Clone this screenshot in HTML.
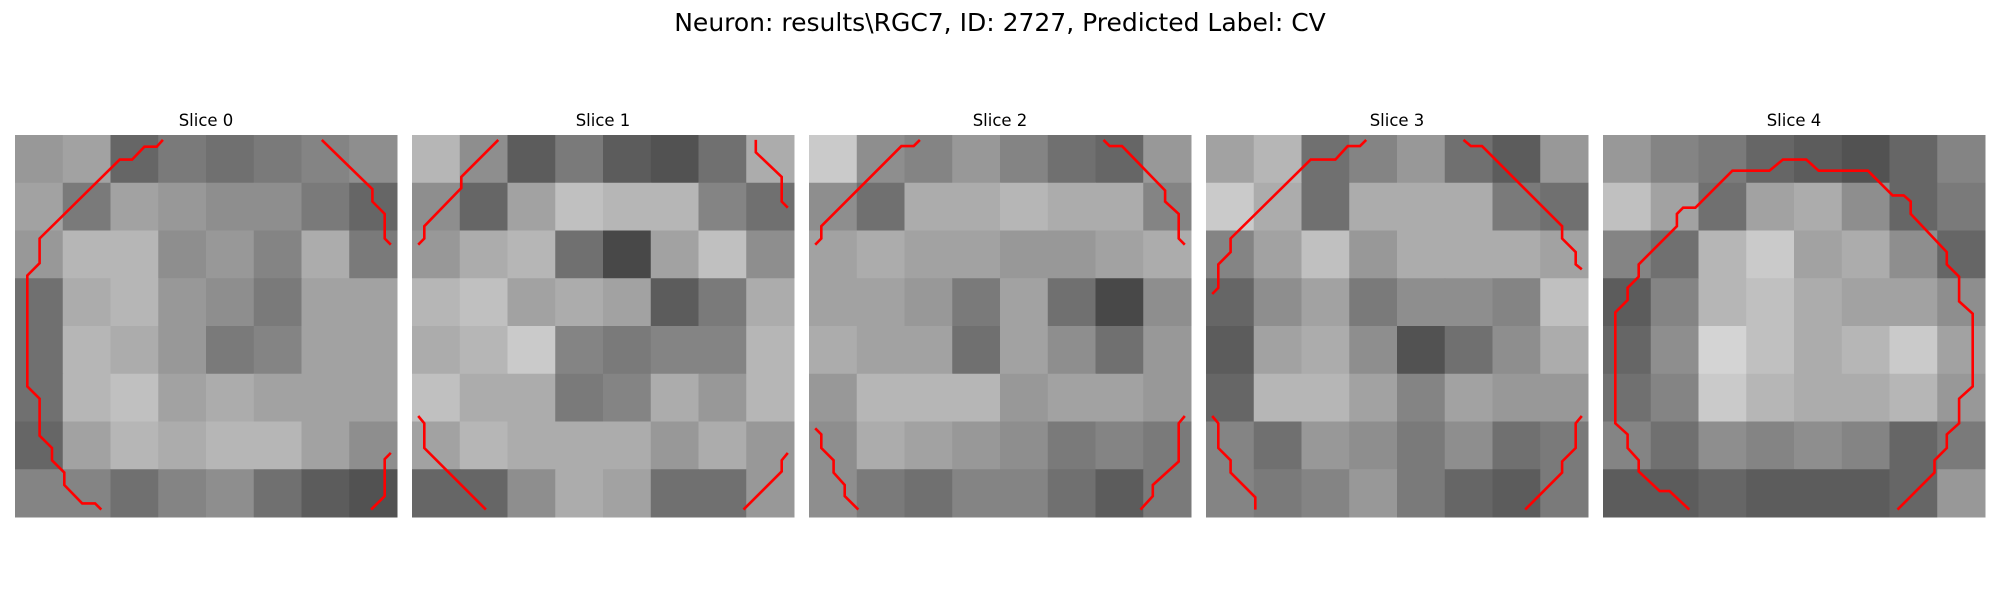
<!DOCTYPE html>
<html><head><meta charset="utf-8"><style>
html,body{margin:0;padding:0;background:#fff;width:2000px;height:600px;overflow:hidden}
svg{display:block}
</style></head><body>
<svg id="fig" width="2000" height="600" xmlns="http://www.w3.org/2000/svg">
<text x="1000" y="31" text-anchor="middle" font-family="DejaVu Sans, Liberation Sans, sans-serif" font-size="25" fill="#000">Neuron: results\RGC7, ID: 2727, Predicted Label: CV</text>
</svg>
<script>
const sliceLabels = ["Slice 0","Slice 1","Slice 2","Slice 3","Slice 4"];
const gridSize = 31;
const intensity0 = [[140,150,90,110,100,110,120,130],[150,110,150,140,130,130,110,90],[140,170,170,130,140,120,160,110],[100,160,170,140,130,110,150,150],[100,170,160,140,110,120,150,150],[100,170,180,150,160,150,150,150],[90,150,170,160,170,170,150,130],[120,120,100,120,130,100,80,70]];
const intensity1 = [[170,130,80,110,80,70,100,160],[130,90,150,180,170,170,120,100],[140,160,170,100,60,150,180,130],[170,180,150,160,150,80,110,160],[160,170,190,120,110,120,120,170],[180,160,160,110,120,160,140,170],[150,170,160,160,160,140,160,140],[90,90,130,160,150,100,100,140]];
const intensity2 = [[190,130,120,140,120,100,90,140],[130,100,160,160,170,160,160,120],[150,160,150,150,140,140,150,160],[150,150,140,110,150,100,60,130],[160,150,150,100,150,130,100,140],[140,170,170,170,140,150,150,140],[130,160,150,140,130,110,120,110],[130,110,100,120,120,100,80,110]];
const intensity3 = [[150,170,100,120,140,100,80,140],[190,160,100,160,160,160,110,100],[120,150,180,140,160,160,160,150],[90,130,150,110,130,130,120,180],[80,150,160,130,70,100,130,160],[90,170,170,150,120,150,140,140],[120,100,140,130,110,130,100,110],[120,110,120,140,110,90,80,110]];
const intensity4 = [[140,120,110,90,80,70,90,120],[180,150,100,150,160,130,90,110],[120,100,170,190,150,160,130,90],[80,120,170,180,160,150,150,130],[90,130,200,180,160,170,190,150],[100,120,190,170,160,160,170,140],[120,100,130,120,130,120,90,110],[80,80,90,80,80,80,90,140]];
const contours0 = [
 [[12.0,0.4],[11.5,0.95],[10.5,0.95],[9.5,2.0],[8.5,2.0],[2.0,8.4],[2.0,10.4],[1.0,11.4],[1.0,20.4],[2.0,21.4],[2.0,24.4],[3.0,25.4],[3.0,26.4],[4.0,27.4],[4.0,28.4],[5.45,29.9],[6.5,29.9],[7.0,30.4]],
 [[24.9,0.4],[29.0,4.4],[29.0,5.4],[30.0,6.4],[30.0,8.4],[30.5,8.9]],
 [[30.5,25.8],[30.0,26.3],[30.0,29.3],[28.9,30.4]]];
const contours1 = [
 [[7.0,0.4],[4.0,3.4],[4.0,4.3],[1.0,7.4],[1.0,8.4],[0.5,8.9]],
 [[27.9,0.4],[27.9,1.4],[30.0,3.4],[30.0,5.4],[30.5,5.9]],
 [[0.5,22.8],[1.0,23.4],[1.0,25.4],[6.0,30.4]],
 [[30.5,25.8],[30.0,26.4],[30.0,27.3],[26.9,30.4]]];
const contours2 = [
 [[9.0,0.4],[8.5,0.9],[7.5,0.9],[1.0,7.4],[1.0,8.4],[0.5,8.9]],
 [[23.9,0.4],[24.4,0.9],[25.4,0.9],[28.9,4.5],[28.9,5.4],[30.0,6.4],[30.0,8.4],[30.5,8.9]],
 [[0.5,23.8],[1.0,24.3],[1.0,25.4],[2.0,26.4],[2.0,27.4],[2.9,28.4],[2.9,29.3],[4.0,30.4]],
 [[30.5,22.8],[30.0,23.4],[30.0,26.5],[27.9,28.4],[27.9,29.3],[26.9,30.4]]];
const contours3 = [
 [[13.0,0.4],[12.5,0.9],[11.5,0.9],[10.5,2.0],[8.5,2.0],[2.0,8.4],[2.0,9.5],[1.0,10.5],[1.0,12.4],[0.5,12.9]],
 [[20.9,0.4],[21.5,0.9],[22.4,0.9],[28.9,7.4],[28.9,8.4],[30.0,9.5],[30.0,10.5],[30.5,10.9]],
 [[0.5,22.8],[1.0,23.4],[1.0,25.4],[2.0,26.4],[2.0,27.4],[4.0,29.4],[4.0,30.4]],
 [[30.5,22.8],[30.0,23.4],[30.0,25.4],[28.9,26.5],[28.9,27.4],[25.9,30.4]]];
const contours4 = [
 [[7.0,30.4],[5.4,28.9],[4.6,28.9],[2.9,27.3],[2.9,26.4],[2.0,25.4],[2.0,24.3],[1.0,23.4],[1.0,14.4],[2.0,13.4],[2.0,12.4],[2.9,11.5],[2.9,10.5],[6.0,7.4],[6.0,6.4],[6.5,5.9],[7.5,5.9],[10.5,2.9],[13.5,2.9],[14.6,2.0],[16.5,2.0],[17.5,2.9],[21.5,2.9],[23.5,4.9],[24.4,4.9],[24.97,5.4],[24.97,6.4],[27.9,9.5],[27.9,10.5],[28.9,11.5],[28.9,13.5],[30.0,14.5],[30.0,20.4],[28.9,21.4],[28.9,23.4],[27.9,24.3],[27.9,25.4],[26.9,26.4],[26.9,27.4],[23.9,30.4]]];

const intensities = [intensity0,intensity1,intensity2,intensity3,intensity4];
const contours = [contours0,contours1,contours2,contours3,contours4];
const NS = "http://www.w3.org/2000/svg";
const svg = document.getElementById('fig');
const panelLeft = [15,412,809,1206,1603];
const panelTop = 135, panelSize = 382;
function xScale(p,u){return panelLeft[p] + u*panelSize/gridSize;}
function yScale(v){return panelTop + v*panelSize/gridSize;}
function gray(v){return Math.max(0,Math.min(255,Math.round(v+12)));}

intensities.forEach((grid,p)=>{
  const g = document.createElementNS(NS,'g');
  
  
  svg.appendChild(g);
  const t = document.createElementNS(NS,'text');
  
  
  t.setAttribute('x', panelLeft[p]+panelSize/2);
  t.setAttribute('y', 126);
  t.setAttribute('text-anchor','middle');
  t.setAttribute('font-family','DejaVu Sans, Liberation Sans, sans-serif');
  t.setAttribute('font-size','16.5');
  t.textContent = sliceLabels[p];
  g.appendChild(t);
  const n = grid.length;
  const step = gridSize/n;
  grid.forEach((row,r)=>{
    row.forEach((val,c)=>{
      const rect = document.createElementNS(NS,'rect');
      
      
      const x0 = xScale(p,c*step), x1 = xScale(p,(c+1)*step);
      const y0 = yScale(r*step), y1 = yScale((r+1)*step);
      rect.setAttribute('x',x0);rect.setAttribute('y',y0);
      rect.setAttribute('width',x1-x0+0.5);rect.setAttribute('height',y1-y0+0.5);
      const gv = gray(val);
      rect.setAttribute('fill','rgb('+gv+','+gv+','+gv+')');
      g.appendChild(rect);
    });
  });
  contours[p].forEach(line=>{
    const pl = document.createElementNS(NS,'polyline');
    
    
    pl.setAttribute('points', line.map(q=>xScale(p,q[0]).toFixed(1)+','+yScale(q[1]).toFixed(1)).join(' '));
    pl.setAttribute('fill','none');
    pl.setAttribute('stroke','#ff0000');
    pl.setAttribute('stroke-width','2.6');
    g.appendChild(pl);
  });
});
</script>
</body></html>
